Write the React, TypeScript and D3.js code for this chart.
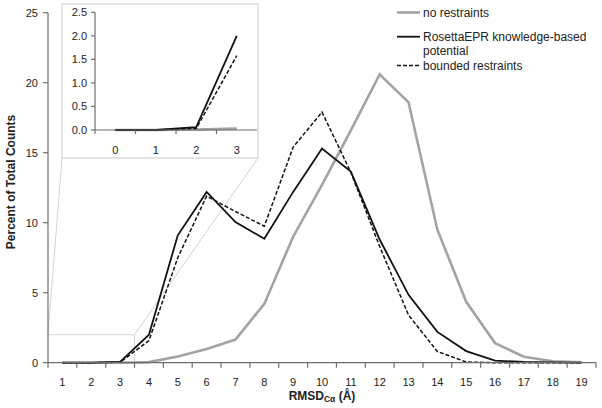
import React from "react";
import * as d3 from "d3";

const categories = ["1","2","3","4","5","6","7","8","9","10","11","12","13","14","15","16","17","18","19"];
const noRestraints = [0, 0, 0, 0.04, 0.45, 0.98, 1.65, 4.2, 9.0, 12.7, 16.6, 20.6, 18.6, 9.5, 4.35, 1.4, 0.43, 0.1, 0.02];
const rosettaEPR = [0, 0, 0.06, 2.0, 9.1, 12.2, 10.05, 8.85, 12.2, 15.3, 13.65, 8.8, 4.85, 2.2, 0.83, 0.15, 0.05, 0.02, 0];
const bounded = [0, 0, 0.03, 1.58, 7.5, 11.9, 10.8, 9.75, 15.4, 17.9, 13.6, 8.3, 3.4, 0.8, 0.05, 0, 0, 0, 0];
const yTicks = [0, 5, 10, 15, 20, 25];

const insetCategories = ["0", "1", "2", "3"];
const insetNoRestraints = [0, 0, 0.01, 0.03];
const insetRosettaEPR = [0, 0, 0.06, 2.0];
const insetBounded = [0, 0, 0.03, 1.58];
const insetYTicks = [0, 0.5, 1.0, 1.5, 2.0, 2.5];

const series = [
  { name: "no restraints", values: noRestraints, inset: insetNoRestraints, color: "#a3a3a3", width: 2.6, dash: "" },
  { name: "RosettaEPR", values: rosettaEPR, inset: insetRosettaEPR, color: "#111", width: 1.8, dash: "" },
  { name: "bounded", values: bounded, inset: insetBounded, color: "#111", width: 1.5, dash: "4,2" },
];

const FONT = "'Liberation Sans', Arial, sans-serif";

export default function App() {
  const x = d3.scaleBand<string>().domain(categories).range([48, 596]).padding(0);
  const y = d3.scaleLinear().domain([0, 25]).range([362.7, 12.7]);
  const bw = x.bandwidth();
  const cx = (c: string) => (x(c) as number) + bw / 2;

  const xi = d3.scaleBand<string>().domain(insetCategories).range([95, 257]).padding(0);
  const yi = d3.scaleLinear().domain([0, 2.5]).range([130, 12.3]);
  const bwi = xi.bandwidth();
  const cxi = (c: string) => (xi(c) as number) + bwi / 2;

  const line = d3.line<number>().x((_, i) => cx(categories[i])).y((d) => y(d));
  const lineI = d3.line<number>().x((_, i) => cxi(insetCategories[i])).y((d) => yi(d));

  const zoomRight = (x("3") as number) + bw;
  const boxL = 62, boxR = 258, boxT = 4, boxB = 158;
  const axisColor = "#6e6e6e";
  const textColor = "#222";

  return (
    <svg width={602} height={408} style={{ position: "absolute", left: 0, top: 0, background: "#fff" }} fontFamily={FONT}>
      {/* zoom indicator */}
      <g stroke="#d4d4d4" strokeWidth={1} fill="none">
        <line x1={48} y1={y(2)} x2={zoomRight} y2={y(2)} />
        <line x1={zoomRight} y1={y(2)} x2={zoomRight} y2={y(0)} />
        <line x1={48} y1={y(2)} x2={boxL} y2={boxB} />
        <line x1={zoomRight} y1={y(2)} x2={boxR} y2={boxB} />
      </g>

      {/* main series */}
      {series.map((s) => (
        <path key={s.name} d={line(s.values) as string} fill="none" stroke={s.color} strokeWidth={s.width}
          strokeDasharray={s.dash || undefined} strokeLinejoin="miter" />
      ))}

      {/* main axes */}
      <line x1={48} y1={y(0)} x2={596} y2={y(0)} stroke={axisColor} strokeWidth={1.2} />
      <line x1={48} y1={y(0)} x2={48} y2={y(25)} stroke={axisColor} strokeWidth={1.2} />
      {yTicks.map((t) => (
        <g key={t}>
          <line x1={43} x2={48} y1={y(t)} y2={y(t)} stroke={axisColor} strokeWidth={1.2} />
          <text x={38} y={y(t) + 4} textAnchor="end" fontSize={11} fill={textColor}>{t}</text>
        </g>
      ))}
      {categories.map((c) => (
        <g key={c}>
          <line x1={x(c) as number} x2={x(c) as number} y1={y(0)} y2={y(0) + 5} stroke={axisColor} strokeWidth={1.2} />
          <text x={cx(c)} y={386} textAnchor="middle" fontSize={11} fill={textColor}>{c}</text>
        </g>
      ))}
      <line x1={596} x2={596} y1={y(0)} y2={y(0) + 5} stroke={axisColor} strokeWidth={1.2} />

      <text transform={`translate(14.5,${182}) rotate(-90)`} textAnchor="middle" fontSize={12} fontWeight="bold" fill={textColor}>
        Percent of Total Counts
      </text>
      <text x={322} y={399.5} textAnchor="middle" fontSize={12} fontWeight="bold" fill={textColor}>
        RMSD<tspan fontSize={8.5} dy={2}>Cα</tspan><tspan dy={-2}> (Å)</tspan>
      </text>

      {/* inset */}
      <rect x={boxL} y={boxT} width={boxR - boxL} height={boxB - boxT} fill="#fff" stroke="#dcdcdc" strokeWidth={1.5} />
      {series.map((s) => (
        <path key={"i" + s.name} d={lineI(s.inset) as string} fill="none" stroke={s.color} strokeWidth={s.width}
          strokeDasharray={s.dash || undefined} />
      ))}
      <line x1={95} y1={yi(0)} x2={257} y2={yi(0)} stroke={axisColor} strokeWidth={1.2} />
      <line x1={95} y1={yi(0)} x2={95} y2={yi(2.5)} stroke={axisColor} strokeWidth={1.2} />
      {insetYTicks.map((t) => (
        <g key={t}>
          <line x1={91} x2={95} y1={yi(t)} y2={yi(t)} stroke={axisColor} strokeWidth={1.2} />
          <text x={87} y={yi(t) + 4} textAnchor="end" fontSize={11} fill={textColor}>{t.toFixed(1)}</text>
        </g>
      ))}
      {insetCategories.map((c) => (
        <g key={c}>
          <line x1={xi(c) as number} x2={xi(c) as number} y1={yi(0)} y2={yi(0) + 4} stroke={axisColor} strokeWidth={1.2} />
          <text x={cxi(c)} y={154} textAnchor="middle" fontSize={11} fill={textColor}>{c}</text>
        </g>
      ))}

      {/* legend */}
      <g fontSize={12} fill={textColor}>
        <line x1={397} x2={420} y1={12.5} y2={12.5} stroke="#a3a3a3" strokeWidth={2.6} />
        <text x={423} y={16.5}>no restraints</text>
        <line x1={397} x2={420} y1={36.7} y2={36.7} stroke="#111" strokeWidth={1.8} />
        <text x={423} y={40.5}>RosettaEPR knowledge-based</text>
        <text x={423} y={55}>potential</text>
        <line x1={397} x2={420} y1={65.5} y2={65.5} stroke="#111" strokeWidth={1.5} strokeDasharray="4,2" />
        <text x={423} y={69.5}>bounded restraints</text>
      </g>
    </svg>
  );
}
